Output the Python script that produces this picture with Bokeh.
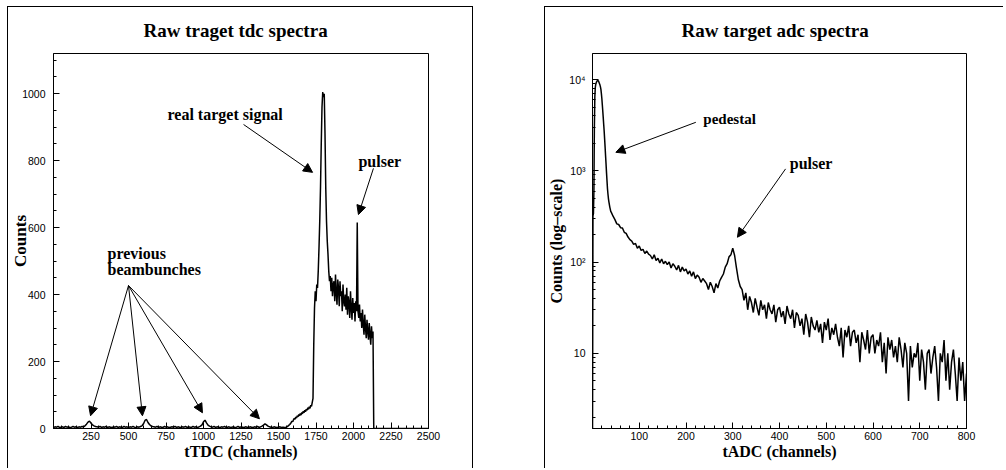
import math
from bokeh.plotting import figure
from bokeh.models import Label, Arrow, NormalHead, FixedTicker, Range1d
from bokeh.layouts import row
from bokeh.embed import file_html
from bokeh.resources import INLINE

# ---------------- data ----------------
# TDC spectrum: baseline region (10-channel bins starting at channel 0)
tdc_base_start = 0
tdc_base_step = 10
tdc_base_counts = [
    3, 5, 4, 6, 3, 4, 5, 3, 6, 4, 5, 3, 4, 6, 4, 5, 3, 5, 4, 6,
    5, 8, 13, 19, 22, 16, 11, 8, 6, 5,
    4, 6, 3, 5, 4, 6, 3, 5, 4, 3,
    5, 4, 6, 3, 5, 4, 3, 6, 4, 5,
    3, 5, 4, 6, 4, 3, 5, 4, 6, 8,
    14, 24, 27, 18, 12, 8, 6, 5, 4, 6,
    3, 5, 4, 3, 6, 4, 5, 3, 4, 5,
    4, 6, 3, 5, 4, 3, 5, 4, 6, 3,
    5, 4, 3, 6, 4, 5, 3, 5, 7, 11,
    20, 25, 17, 10, 7, 5, 4, 6, 3, 5,
    4, 3, 5, 4, 6, 3, 4, 5, 3, 4,
    5, 3, 4, 6, 3, 5, 4, 3, 5, 4,
    3, 5, 4, 3, 5, 4, 6, 3, 5, 7,
    10, 14, 11, 7, 5, 4, 3, 5, 4, 3,
    4, 5, 3, 4, 3,
]
# TDC spectrum: signal region (5-channel bins starting at channel 1550)
tdc_peak_start = 1550
tdc_peak_step = 5
tdc_peak_counts = [
    4, 5, 6, 8, 10, 12, 15, 18, 22, 20,
    26, 30, 28, 34, 31, 38, 35, 42, 38, 45,
    40, 48, 44, 52, 47, 55, 50, 58, 54, 62,
    57, 65, 60, 70, 66, 78, 90, 250, 360, 410,
    380, 430, 420, 470, 540, 620, 720, 850, 960, 1005,
    990, 1000, 880, 720, 620, 560, 520, 470, 440, 455,
    410, 450, 395, 430, 440, 380, 460, 405, 370, 445,
    420, 365, 440, 395, 410, 350, 430, 380, 365, 400,
    355, 420, 340, 395, 375, 330, 410, 360, 325, 390,
    345, 375, 320, 380, 350, 615, 350, 330, 370, 320,
    345, 300, 355, 310, 280, 340, 300, 270, 325, 290,
    265, 315, 280, 250, 305, 270, 290, 0, 0, 0,
]
# TDC spectrum: empty region (10-channel bins starting at channel 2150)
tdc_tail_start = 2150
tdc_tail_step = 10
tdc_tail_counts = [
    0, 0, 0, 0, 0, 0, 0, 0, 0, 0, 0, 0, 0, 0, 0, 0, 0, 0,
    0, 0, 0, 0, 0, 0, 0, 0, 0, 0, 0, 0, 0, 0, 0, 0, 0, 0,
]

# ADC spectrum: pedestal (1-channel bins from channel 0)
adc_ped_start = 0
adc_ped_step = 1
adc_ped_counts = [
    1, 320, 340, 600, 3000, 6500, 8200, 8900, 9200, 9500,
    9700, 9800, 9700, 9600, 9300, 9000, 8700, 8300, 7800, 7000,
    6200, 5300, 4500, 3800, 3200, 2700, 2200, 1800, 1450, 1180,
    950, 780, 640, 560, 500, 460, 430, 400, 380, 360,
]
# ADC spectrum: continuum and pulser (4-channel bins from channel 40)
adc_tail_start = 40
adc_tail_step = 4
adc_tail_counts = [
    352, 318, 292, 262, 258, 238, 236, 212, 206, 188,
    176, 170, 156, 160, 142, 150, 134, 138, 124, 132,
    122, 118, 108, 120, 104, 110, 98, 108, 96, 102,
    94, 100, 86, 96, 90, 82, 92, 78, 88, 80,
    84, 74, 80, 70, 78, 66, 72, 68, 60, 66,
    62, 58, 50, 60, 54, 46, 58, 52, 62, 68,
    74, 88, 96, 114, 120, 142, 118, 86, 64, 54,
    50, 38, 46, 30, 42, 36, 28, 40, 32, 26,
    38, 30, 34, 24, 36, 30, 27, 34, 22, 30,
    32, 25, 29, 21, 33, 27, 24, 30, 19, 28,
    26, 20, 24, 16, 27, 22, 15, 25, 20, 18,
    23, 17, 21, 13, 22, 18, 24, 14, 19, 16,
    21, 15, 12, 19, 9, 18, 15, 20, 12, 17,
    18, 13, 16, 8, 17, 14, 11, 18, 10, 15,
    16, 10, 14, 12, 17, 8, 13, 6, 15, 11,
    14, 9, 12, 8, 15, 11, 7, 13, 10, 3,
    12, 7, 10, 9, 13, 5, 11, 8, 4, 10,
    11, 6, 9, 12, 7, 3, 10, 8, 14, 5,
    10, 4, 8, 11, 6, 3, 9, 5, 8, 3,
    6,
]

# axis ticks and labels
tdc_x_ticks = [250, 500, 750, 1000, 1250, 1500, 1750, 2000, 2250, 2500]
tdc_y_ticks = [0, 200, 400, 600, 800, 1000]
adc_x_ticks = [100, 200, 300, 400, 500, 600, 700, 800]
adc_y_ticks = [10, 100, 1000, 10000]
adc_y_tick_labels = ["10", "10\u00b2", "10\u00b3", "10\u2074"]


def channels(start, step, counts):
    return [start + step * i for i in range(len(counts))]


tdc_x = (channels(tdc_base_start, tdc_base_step, tdc_base_counts)
         + channels(tdc_peak_start, tdc_peak_step, tdc_peak_counts)
         + channels(tdc_tail_start, tdc_tail_step, tdc_tail_counts))
tdc_y = tdc_base_counts + tdc_peak_counts + tdc_tail_counts

adc_x = (channels(adc_ped_start, adc_ped_step, adc_ped_counts)
         + channels(adc_tail_start, adc_tail_step, adc_tail_counts))
adc_y = adc_ped_counts + adc_tail_counts

SERIF = "Liberation Serif"
SANS = "Liberation Sans"


def style(p):
    p.grid.visible = False
    p.outline_line_color = "black"
    p.outline_line_width = 1
    p.outline_line_alpha = 1
    p.background_fill_color = "white"
    p.border_fill_color = "white"
    p.title.text_font = SERIF
    p.title.text_font_size = "19px"
    p.title.text_font_style = "bold"
    p.title.align = "left"
    p.title.vertical_align = "top"
    p.title.text_color = "black"
    p.title.standoff = 21
    for ax in p.axis:
        ax.major_tick_in = 6
        ax.major_tick_out = 0
        ax.minor_tick_in = 3
        ax.minor_tick_out = 0
        ax.axis_line_color = "black"
        ax.major_tick_line_color = "black"
        ax.minor_tick_line_color = "black"
        ax.major_label_text_font = SANS
        ax.major_label_text_font_size = "10.5px"
        ax.major_label_text_color = "black"
        ax.axis_label_text_font = SERIF
        ax.axis_label_text_font_size = "16px"
        ax.axis_label_text_font_style = "bold"
        ax.axis_label_text_color = "black"
        ax.axis_label_standoff = 0
    p.xaxis.major_label_standoff = 3
    p.yaxis.major_label_standoff = 8


def note(p, x, y, text, size="16px"):
    p.add_layout(Label(x=x, y=y, text=text, text_font=SERIF, text_font_size=size,
                       text_font_style="bold", text_align="left",
                       text_baseline="middle", text_color="black"))


def arrow(p, x0, y0, x1, y1):
    p.add_layout(Arrow(end=NormalHead(size=9, fill_color="black", line_color="black",
                                      line_width=1),
                       x_start=x0, y_start=y0, x_end=x1, y_end=y1,
                       line_color="black", line_width=1))


# ---------------- left: TDC ----------------
p1 = figure(width=466, height=462, x_range=Range1d(0, 2500), y_range=Range1d(0, 1120),
            output_backend="svg", toolbar_location=None,
            min_border_left=45, min_border_right=46, min_border_top=46, min_border_bottom=41,
            title="Raw traget tdc spectra")
p1.margin = (6, 0, 0, 7)
p1.styles = {"border-top": "1px solid black", "border-left": "1px solid black",
             "border-right": "1px solid black"}
p1.line(tdc_x, tdc_y, line_color="black", line_width=1.5)
style(p1)
p1.title.offset = 90
p1.xaxis.axis_label = "tTDC (channels)"
p1.yaxis.axis_label = "Counts"
p1.yaxis.axis_label_text_font_size = "17px"
p1.yaxis.axis_label_standoff = -11
p1.xaxis.ticker = FixedTicker(ticks=tdc_x_ticks, minor_ticks=list(range(50, 2501, 50)))
p1.yaxis.ticker = FixedTicker(ticks=tdc_y_ticks, minor_ticks=list(range(50, 1101, 50)))

note(p1, 760, 937, "real target signal")
arrow(p1, 1267, 908, 1727, 765)
note(p1, 2033, 797, "pulser")
arrow(p1, 2133, 777, 2033, 639)
note(p1, 360, 522, "previous")
note(p1, 360, 474, "beambunches")
for hx, hy in [(247, 38), (593, 38), (993, 47), (1373, 29)]:
    arrow(p1, 500, 427, hx, hy)

# ---------------- right: ADC ----------------
p2 = figure(width=459, height=462, x_range=Range1d(0, 800), y_range=Range1d(1.5, 19300),
            y_axis_type="log", output_backend="svg", toolbar_location=None,
            min_border_left=46, min_border_right=38, min_border_top=46, min_border_bottom=41,
            title="Raw target adc spectra")
p2.margin = (6, 0, 0, 71)
p2.styles = {"border-top": "1px solid black", "border-left": "1px solid black"}
p2.line(adc_x, adc_y, line_color="black", line_width=1.5)
style(p2)
p2.title.offset = 89
p2.xaxis.axis_label = "tADC (channels)"
p2.yaxis.axis_label = "Counts (log\u2013scale)"
p2.yaxis.axis_label_standoff = 1
p2.xaxis.ticker = FixedTicker(ticks=adc_x_ticks, minor_ticks=list(range(20, 801, 20)))
log_minor = [m * 10 ** e for e in range(0, 5) for m in range(2, 10)]
p2.yaxis.ticker = FixedTicker(ticks=adc_y_ticks, minor_ticks=log_minor)
p2.yaxis.major_label_overrides = {t: s for t, s in zip(adc_y_ticks, adc_y_tick_labels)}
p2.yaxis.major_label_standoff = 7

note(p2, 237, 3730, "pedestal", size="15px")
arrow(p2, 221, 3400, 50, 1595)
note(p2, 422, 1200, "pulser")
arrow(p2, 413, 1050, 310, 187)

layout = row(p1, p2)
open("out.html", "w").write(file_html(layout, INLINE))
